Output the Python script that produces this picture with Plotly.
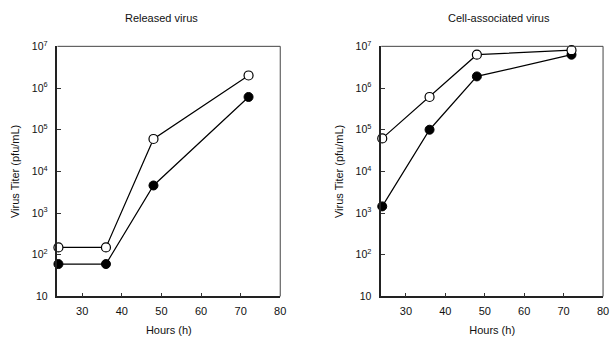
import plotly.graph_objects as go

hours = [24, 36, 48, 72]
released_open = [150, 150, 6.0e4, 2.0e6]
released_filled = [60, 60, 4.6e3, 6.1e5]
cell_open = [6.2e4, 6.1e5, 6.3e6, 8.1e6]
cell_filled = [1.45e3, 1.0e5, 1.9e6, 6.3e6]

ytickvals = [10, 1e2, 1e3, 1e4, 1e5, 1e6, 1e7]
yticktext = ["10", "10<sup>2</sup>", "10<sup>3</sup>", "10<sup>4</sup>",
             "10<sup>5</sup>", "10<sup>6</sup>", "10<sup>7</sup>"]
xtickvals = [30, 40, 50, 60, 70, 80]
panel_titles = ["Released virus", "Cell-associated virus"]

FONT = "Liberation Sans, Arial, sans-serif"
fig = go.Figure()

panels = [(released_open, released_filled, "x", "y"),
          (cell_open, cell_filled, "x2", "y2")]
for op, fi, xa, ya in panels:
    fig.add_trace(go.Scatter(x=hours, y=fi, mode="lines+markers", xaxis=xa, yaxis=ya,
                             line=dict(color="black", width=1.2),
                             marker=dict(size=9, color="black", line=dict(color="black", width=1)),
                             showlegend=False, cliponaxis=False))
    fig.add_trace(go.Scatter(x=hours, y=op, mode="lines+markers", xaxis=xa, yaxis=ya,
                             line=dict(color="black", width=1.2),
                             marker=dict(size=9, color="white", line=dict(color="black", width=1.2)),
                             showlegend=False, cliponaxis=False))

doms = [[58/615, 283/615], [385/615, 609/615]]
ydom = [1 - 301/337, 1 - 40/337]

axcommon_x = dict(range=[23.75, 80], tickvals=xtickvals, ticks="inside", ticklen=4,
                  tickcolor="#333", showline=True, linecolor="#222", linewidth=1.5,
                  showgrid=False, zeroline=False, tickfont=dict(family=FONT, size=11, color="#111"),
                  ticklabeloverflow="allow", ticklabelstandoff=4,
                  title=dict(text="Hours (h)", font=dict(family=FONT, size=11, color="#111"), standoff=10))
axcommon_y = dict(type="log", range=[1, 7], tickvals=ytickvals, ticktext=yticktext,
                  ticks="inside", ticklen=4, tickcolor="#333", showline=True, linecolor="#222",
                  linewidth=1.5, showgrid=False, zeroline=False,
                  tickfont=dict(family=FONT, size=10.5, color="#111"), ticklabelstandoff=6,
                  title=dict(text="Virus Titer (pfu/mL)", font=dict(family=FONT, size=11, color="#111"),
                             standoff=10))

fig.update_layout(
    width=615, height=337, margin=dict(l=0, r=0, t=0, b=0),
    paper_bgcolor="white", plot_bgcolor="white",
    xaxis=dict(domain=doms[0], anchor="y", **axcommon_x),
    yaxis=dict(domain=ydom, anchor="x", **axcommon_y),
    xaxis2=dict(domain=doms[1], anchor="y2", **axcommon_x),
    yaxis2=dict(domain=ydom, anchor="x2", **axcommon_y),
)

for i, (xr, yr) in enumerate([("x", "y"), ("x2", "y2")]):
    fig.add_shape(type="line", xref=f"{xr} domain", yref=f"{yr} domain", x0=0, x1=1, y0=1, y1=1,
                  line=dict(color="#444", width=1))
    fig.add_shape(type="line", xref=f"{xr} domain", yref=f"{yr} domain", x0=1, x1=1, y0=0, y1=1,
                  line=dict(color="#444", width=1))
    fig.add_annotation(text=panel_titles[i], xref="paper", yref="paper",
                       x=163/615 if i == 0 else 504/615, y=1 - 10/337,
                       showarrow=False, font=dict(family=FONT, size=11, color="#111"),
                       xanchor="center", yanchor="middle")

fig.write_html("out.html", config={"displayModeBar": False},
               post_script="document.body.style.margin='0';document.body.style.overflow='hidden';")
